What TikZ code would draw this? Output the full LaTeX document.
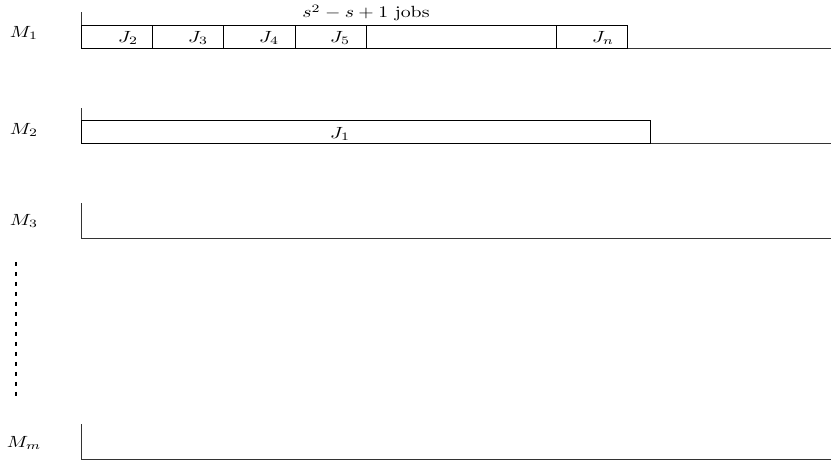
\documentclass[tikz,border=0pt]{standalone}
\begin{document}
\begin{tikzpicture}[x=0.5556pt,y=-0.5556pt,
  lbl/.style={inner sep=0pt, transform shape, xscale=1.1, yscale=0.9},
  axis/.style={line width=0.45pt, black!80},
  jobbox/.style={line width=0.55pt, black}]
\useasboundingbox (0,0) rectangle (831,461);
% machine labels
\node[lbl] (m1) at (24,33) {$M_1$};
\node[lbl] (m2) at (24,130) {$M_2$};
\node[lbl] (m3) at (24,221) {$M_3$};
\node[lbl] (mm) at (24,443) {$M_m$};
% axes
\draw[axis] (81,12) -- (81,48) -- (831,48);
\draw[axis] (81,108) -- (81,143) -- (831,143);
\draw[axis] (81,203) -- (81,238) -- (831,238);
\draw[axis] (81,424) -- (81,459.5) -- (831,459.5);
% machine 1 jobs
\draw[jobbox] (81,25) rectangle (152,48);
\draw[jobbox] (152,25) rectangle (223,48);
\draw[jobbox] (223,25) rectangle (295,48);
\draw[jobbox] (295,25) rectangle (366,48);
\draw[jobbox] (366,25) rectangle (556,48);
\draw[jobbox] (556,25) rectangle (627,48);
\node[lbl] (j2) at (128,38) {$J_2$};
\node[lbl] (j3) at (198,38) {$J_3$};
\node[lbl] (j4) at (269,38) {$J_4$};
\node[lbl] (j5) at (340,38) {$J_5$};
\node[lbl] (jn) at (603,38) {$J_n$};
\node[lbl] (cnt) at (366,13) {$s^2-s+1$ jobs};
% machine 2 job
\draw[jobbox] (81,120) rectangle (650,143);
\node[lbl] (j1) at (340,134) {$J_1$};
% dots
\draw[line width=1.1pt, dash pattern=on 2.2pt off 3.35pt] (16,262) -- (16,401);
\end{tikzpicture}
\end{document}
